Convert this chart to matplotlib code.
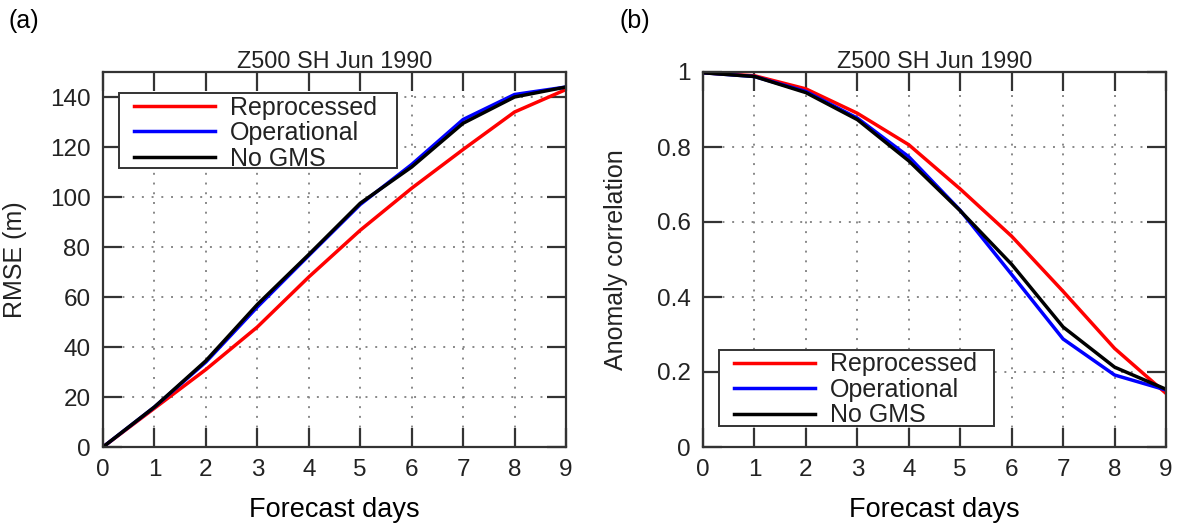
import matplotlib
matplotlib.use("Agg")
import matplotlib.pyplot as plt
from matplotlib.patches import Rectangle

plt.rcParams['font.family'] = ['Liberation Sans', 'DejaVu Sans']

days = [0, 1, 2, 3, 4, 5, 6, 7, 8, 9]
series_names = ["Reprocessed", "Operational", "No GMS"]
series_colors = ["#ff0000", "#0000ff", "#000000"]

rmse_reprocessed = [0, 15.5, 31, 48, 68, 86.7, 103.5, 119, 134, 143]
rmse_operational = [0, 16, 34, 56, 76.6, 97, 113, 131, 141, 144]
rmse_nogms = [0, 16, 34.5, 57, 77, 97.5, 112, 129.5, 140, 144]

ac_reprocessed = [0.998, 0.99, 0.955, 0.89, 0.806, 0.688, 0.562, 0.415, 0.263, 0.143]
ac_operational = [0.998, 0.988, 0.948, 0.877, 0.774, 0.631, 0.46, 0.288, 0.192, 0.152]
ac_nogms = [0.998, 0.988, 0.945, 0.873, 0.763, 0.63, 0.487, 0.32, 0.213, 0.154]

title = "Z500 SH Jun 1990"
xlabel = "Forecast days"
rmse_yticks = [0, 20, 40, 60, 80, 100, 120, 140]
ac_yticks = [0, 0.2, 0.4, 0.6, 0.8, 1.0]
ac_yticklabels = ["0", "0.2", "0.4", "0.6", "0.8", "1"]

W, H = 1183, 525
fig = plt.figure(figsize=(W / 100, H / 100), dpi=100)

def px_axes(x0, y0, x1, y1):
    return fig.add_axes([x0 / W, 1 - y1 / H, (x1 - x0) / W, (y1 - y0) / H])

ax1 = px_axes(103, 72, 566, 447)
ax2 = px_axes(703, 72, 1166, 447)

spine_col = "#333333"

def style(ax):
    for s in ax.spines.values():
        s.set_linewidth(1.6)
        s.set_color(spine_col)
    ax.tick_params(direction="in", length=14, width=1.6, color=spine_col,
                   top=True, right=True, labelsize=17.5, labelcolor="#222222")
    ax.tick_params(axis="x", pad=9)
    ax.tick_params(axis="y", pad=9)
    ax.grid(True, color="#888888", linestyle=(0, (1, 4)), linewidth=1.4)
    ax.set_axisbelow(True)
    ax.set_xlim(0, 9)
    ax.set_xticks(days)
    ax.set_title(title, fontsize=16.8, color="#222222", pad=3)
    ax.set_xlabel(xlabel, fontsize=19.5, labelpad=11)

def legend(ax, box, top):
    x0, y0, x1, y1 = box
    ax.add_patch(Rectangle((x0, y0), x1 - x0, y1 - y0, transform=ax.transAxes,
                           facecolor="white", edgecolor="#333333", linewidth=1.4,
                           zorder=4.9, clip_on=False))
    leg = ax.legend(loc="upper left", bbox_to_anchor=(x0 + 0.032, top), fontsize=18,
                    frameon=False, handlelength=3.25, handletextpad=0.6, borderpad=0.0,
                    labelspacing=0.06, borderaxespad=0)
    leg.set_zorder(5)
    for t in leg.get_texts():
        t.set_color("#222222")
    return leg

# left panel
for vals, name, col in zip([rmse_reprocessed, rmse_operational, rmse_nogms], series_names, series_colors):
    ax1.plot(days, vals, color=col, linewidth=2.5, label=name)
ax1.set_ylim(0, 150)
ax1.set_yticks(rmse_yticks)
style(ax1)
ax1.set_ylabel("RMSE (m)", fontsize=18, color="#222222")
ax1.yaxis.set_label_coords(-0.164, 0.5)
legend(ax1, (0.035, 0.744, 0.634, 0.944), 0.937)

# right panel
for vals, name, col in zip([ac_reprocessed, ac_operational, ac_nogms], series_names, series_colors):
    ax2.plot(days, vals, color=col, linewidth=2.5, label=name)
ax2.set_ylim(0, 1)
ax2.set_yticks(ac_yticks)
ax2.set_yticklabels(ac_yticklabels)
style(ax2)
ax2.set_ylabel("Anomaly correlation", fontsize=18, color="#222222")
ax2.yaxis.set_label_coords(-0.162, 0.5)
legend(ax2, (0.035, 0.056, 0.629, 0.259), 0.252)

fig.text(8 / W, 1 - 21 / H, "(a)", fontsize=18, va="center", ha="left")
fig.text(620 / W, 1 - 21 / H, "(b)", fontsize=18, va="center", ha="left")

fig.savefig("out.png", dpi=100)
